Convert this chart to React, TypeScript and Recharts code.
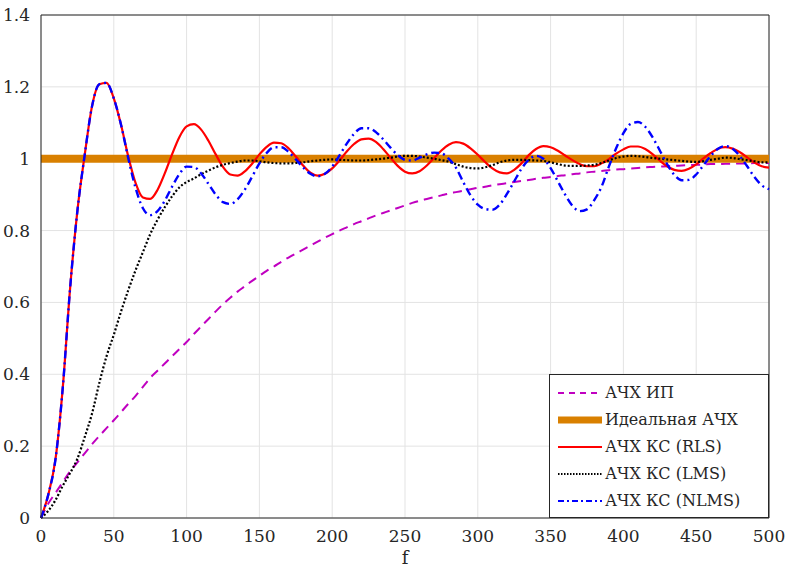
import { CartesianGrid, Legend, Line, LineChart, ReferenceLine, XAxis, YAxis } from "recharts"

// frequency grid, step 5
const freq = Array.from({ length: 101 }, (_, i) => i * 5)

const afcSource = [
  0, 0.04, 0.07, 0.1, 0.13, 0.155, 0.18, 0.205, 0.228, 0.25,
  0.272, 0.295, 0.318, 0.34, 0.365, 0.39, 0.41, 0.43, 0.45, 0.47,
  0.49, 0.512, 0.533, 0.554, 0.575, 0.595, 0.613, 0.63, 0.645, 0.66,
  0.674, 0.688, 0.7, 0.713, 0.725, 0.736, 0.747, 0.758, 0.769, 0.78,
  0.79, 0.8, 0.809, 0.818, 0.826, 0.834, 0.842, 0.849, 0.856, 0.863,
  0.87, 0.877, 0.883, 0.888, 0.893, 0.898, 0.903, 0.907, 0.911, 0.915,
  0.919, 0.922, 0.926, 0.929, 0.932, 0.935, 0.938, 0.941, 0.944, 0.947,
  0.949, 0.952, 0.954, 0.957, 0.959, 0.962, 0.964, 0.966, 0.968, 0.97,
  0.971, 0.973, 0.974, 0.976, 0.977, 0.978, 0.979, 0.98, 0.981, 0.982,
  0.983, 0.984, 0.985, 0.985, 0.986, 0.986, 0.987, 0.987, 0.988, 0.988,
  0.988,
]

const afcRls = [
  0, 0.065, 0.165, 0.365, 0.64, 0.855, 1.01, 1.145, 1.207, 1.211,
  1.168, 1.094, 1.005, 0.932, 0.892, 0.888, 0.913, 0.959, 1.012, 1.06,
  1.09, 1.096, 1.081, 1.05, 1.012, 0.977, 0.956, 0.953, 0.965, 0.986,
  1.012, 1.033, 1.045, 1.043, 1.029, 1.006, 0.981, 0.961, 0.953, 0.958,
  0.973, 0.995, 1.02, 1.041, 1.054, 1.056, 1.047, 1.027, 1.003, 0.98,
  0.964, 0.959, 0.965, 0.981, 1.002, 1.023, 1.039, 1.046, 1.042, 1.029,
  1.011, 0.991, 0.973, 0.962, 0.959, 0.969, 0.987, 1.01, 1.027, 1.035,
  1.032, 1.022, 1.009, 0.996, 0.985, 0.979, 0.979, 0.987, 0.999, 1.014,
  1.026, 1.034, 1.034, 1.027, 1.013, 0.995, 0.979, 0.969, 0.966, 0.972,
  0.984, 1.001, 1.016, 1.028, 1.032, 1.028, 1.018, 1.004, 0.989, 0.979,
  0.975,
]

const afcLms = [
  0, 0.02, 0.05, 0.09, 0.125, 0.165, 0.225, 0.29, 0.375, 0.45,
  0.51, 0.575, 0.635, 0.69, 0.74, 0.79, 0.83, 0.865, 0.895, 0.92,
  0.935, 0.945, 0.957, 0.967, 0.976, 0.983, 0.988, 0.992, 0.995, 0.995,
  0.993, 0.99, 0.988, 0.987, 0.987, 0.988, 0.99, 0.993, 0.995, 0.997,
  0.998, 0.997, 0.996, 0.995, 0.995, 0.996, 0.998, 1.0, 1.003, 1.006,
  1.008, 1.008, 1.006, 1.003, 1.0, 0.996, 0.992, 0.985, 0.978, 0.974,
  0.973, 0.976, 0.982, 0.99, 0.995, 0.997, 0.997, 0.996, 0.995, 0.994,
  0.99, 0.985, 0.981, 0.98, 0.98, 0.981, 0.983, 0.988, 0.995, 1.002,
  1.006, 1.008, 1.007, 1.005, 1.002, 1.0, 0.998, 0.996, 0.994, 0.992,
  0.991, 0.993, 0.997, 1.0, 1.003, 1.002, 0.999, 0.996, 0.993, 0.99,
  0.99,
]

const afcNlms = [
  0, 0.065, 0.165, 0.365, 0.64, 0.855, 1.01, 1.145, 1.207, 1.211,
  1.168, 1.094, 1.0, 0.918, 0.862, 0.843, 0.854, 0.883, 0.922, 0.957,
  0.978, 0.977, 0.959, 0.93, 0.9, 0.879, 0.874, 0.887, 0.914, 0.95,
  0.987, 1.016, 1.032, 1.032, 1.019, 0.998, 0.976, 0.958, 0.951, 0.958,
  0.978, 1.009, 1.042, 1.069, 1.085, 1.085, 1.074, 1.054, 1.031, 1.01,
  0.997, 0.995, 1.003, 1.012, 1.017, 1.015, 1.0, 0.975, 0.935, 0.898,
  0.872, 0.86, 0.858, 0.872, 0.902, 0.937, 0.972, 0.997, 1.008, 1.0,
  0.974, 0.937, 0.9, 0.869, 0.854, 0.859, 0.885, 0.922, 0.978, 1.029,
  1.071, 1.097, 1.102, 1.089, 1.06, 1.023, 0.985, 0.955, 0.94, 0.941,
  0.956, 0.982, 1.008, 1.028, 1.035, 1.028, 1.007, 0.979, 0.949, 0.926,
  0.915,
]

const idealF = [0, 500]
const idealV = [1, 1]

const xTicks = [0, 50, 100, 150, 200, 250, 300, 350, 400, 450, 500]
const yTicks = [0, 0.2, 0.4, 0.6, 0.8, 1, 1.2, 1.4]

const data = freq.map((f, i) => ({
  f,
  src: afcSource[i],
  rls: afcRls[i],
  lms: afcLms[i],
  nlms: afcNlms[i],
}))
const idealData = idealF.map((f, i) => ({ f, ideal: idealV[i] }))

const FONT = "DejaVu Serif"
const AXIS = "#262626"

const legendItems = [
  { name: "АЧХ ИП", color: "#c000c0", width: 2, dash: "6 5" },
  { name: "Идеальная АЧХ", color: "#d98000", width: 7, dash: undefined },
  { name: "АЧХ КС (RLS)", color: "#ff0000", width: 2, dash: undefined },
  { name: "АЧХ КС (LMS)", color: "#000000", width: 2, dash: "1.5 1.5" },
  { name: "АЧХ КС (NLMS)", color: "#0000ff", width: 2, dash: "6 3 2 3" },
]

function LegendBox() {
  return (
    <div
      style={{
        background: "#fff",
        border: `1px solid ${AXIS}`,
        boxSizing: "border-box",
        width: 220,
        height: 144,
        padding: "4px 0 0 7px",
        fontFamily: FONT,
        fontSize: 16,
        color: AXIS,
        lineHeight: "27px",
      }}
    >
      {legendItems.map((it) => (
        <div key={it.name} style={{ display: "flex", alignItems: "center", height: 27 }}>
          <svg width={46} height={12} style={{ marginRight: 2, flex: "none" }}>
            <line x1={1} y1={6} x2={45} y2={6} stroke={it.color} strokeWidth={it.width} strokeDasharray={it.dash} />
          </svg>
          <span style={{ whiteSpace: "nowrap" }}>{it.name}</span>
        </div>
      ))}
    </div>
  )
}

export default function App() {
  return (
    <div style={{ position: "absolute", left: 0, top: 0, background: "#fff" }}>
      <LineChart width={787} height={569} data={data} margin={{ top: 15, right: 18, left: 0, bottom: 0 }}>
        <CartesianGrid stroke="#e3e3e3" strokeWidth={1} />
        <XAxis
          dataKey="f"
          type="number"
          domain={[0, 500]}
          ticks={xTicks}
          interval={0}
          height={51}
          stroke={AXIS}
          tickLine={false}
          tick={{ fill: AXIS, fontSize: 17, fontFamily: FONT }}
          tickMargin={6}
          label={{ value: "f", position: "insideBottom", offset: 5, fill: AXIS, fontSize: 18, fontFamily: FONT }}
        />
        <YAxis
          type="number"
          domain={[0, 1.4]}
          ticks={yTicks}
          interval={0}
          width={41}
          stroke={AXIS}
          tickLine={false}
          tick={{ fill: AXIS, fontSize: 17, fontFamily: FONT }}
          tickMargin={5}
        />
        <ReferenceLine y={1.4} stroke={AXIS} />
        <ReferenceLine x={500} stroke={AXIS} />
        <Line dataKey="src" type="monotone" stroke="#c000c0" strokeWidth={2} strokeDasharray="9 6" dot={false} isAnimationActive={false} />
        <Line data={idealData} dataKey="ideal" type="linear" stroke="#d98000" strokeWidth={8} dot={false} isAnimationActive={false} />
        <Line dataKey="rls" type="monotone" stroke="#ff0000" strokeWidth={2.2} dot={false} isAnimationActive={false} />
        <Line dataKey="lms" type="monotone" stroke="#000000" strokeWidth={2.2} strokeDasharray="2 2" dot={false} isAnimationActive={false} />
        <Line dataKey="nlms" type="monotone" stroke="#0000ff" strokeWidth={2.4} strokeDasharray="8 4 2 4" dot={false} isAnimationActive={false} />
        <Legend
          layout="horizontal"
          verticalAlign="middle"
          align="center"
          content={() => <LegendBox />}
          wrapperStyle={{ position: "absolute", left: 549, top: 374, width: 220, height: 144 }}
        />
      </LineChart>
    </div>
  )
}
